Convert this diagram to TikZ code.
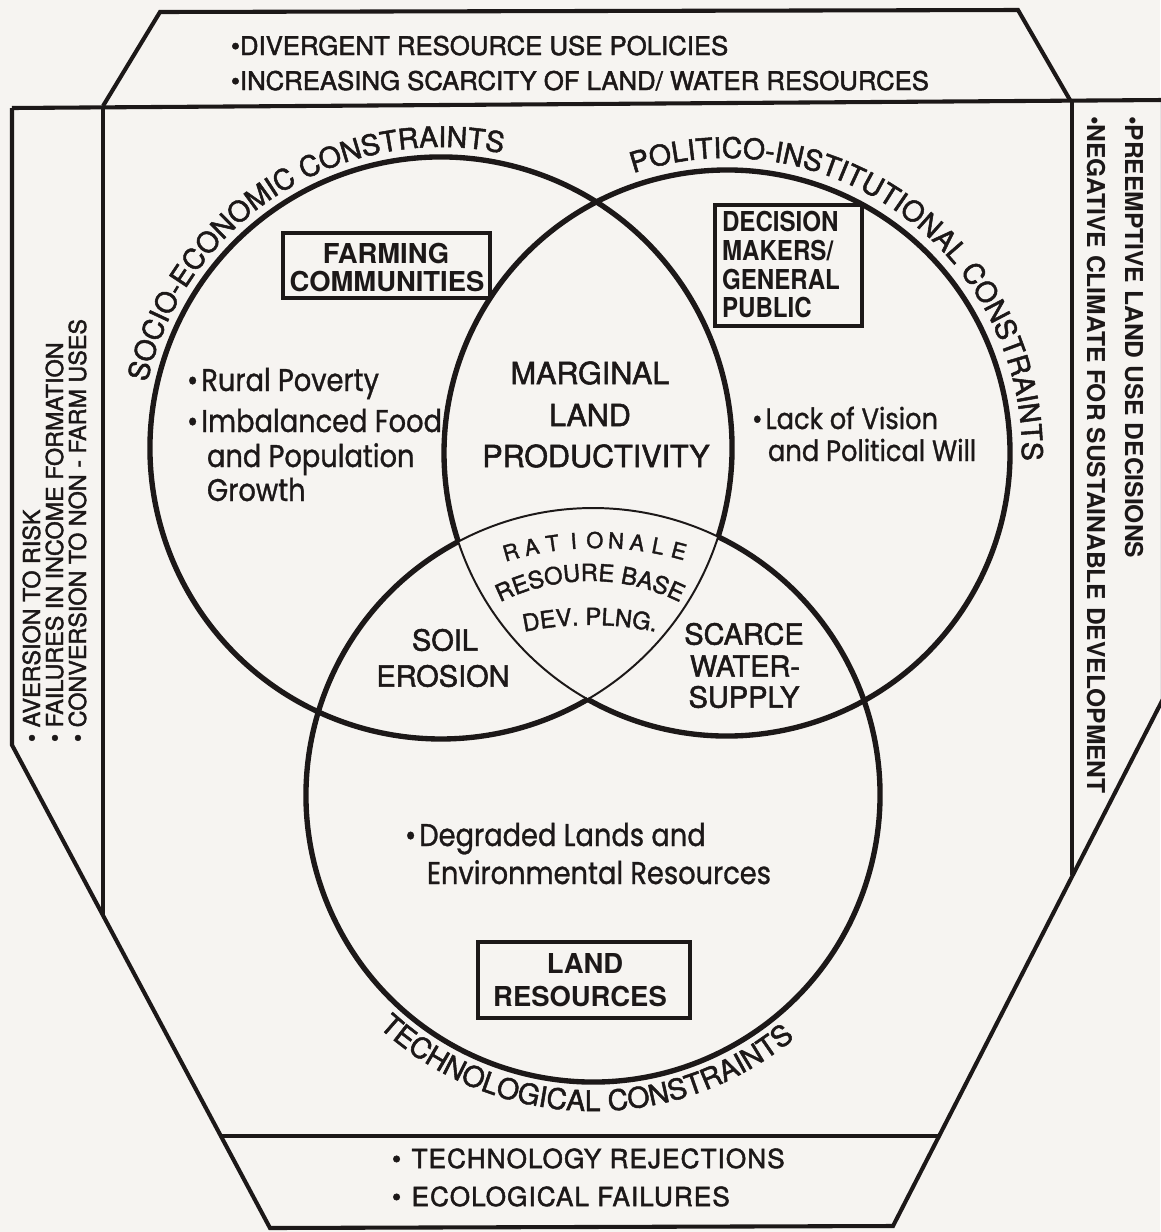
\documentclass[tikz,border=0pt]{standalone}
\usepackage{fontspec}
\setmainfont{TeX Gyre Heros}
\newfontfamily\hvm{TeX Gyre Heros}[FakeBold=1.8]
\newfontfamily\hvc{TeX Gyre Heros}[FakeStretch=0.88]
\newfontfamily\hvr{TeX Gyre Heros}[FakeStretch=1.0]
\newfontfamily\hvls{TeX Gyre Heros}[LetterSpace=4,FakeBold=1.8]
\newfontfamily\pop{Poppins}[FakeStretch=0.87,FakeBold=1.0]
\newfontfamily\popc{Poppins}[FakeStretch=0.88,FakeBold=1.0]
\usetikzlibrary{decorations.text}
\definecolor{ink}{RGB}{28,24,24}
\definecolor{paper}{RGB}{246,244,241}
\newcommand\mytop{\fontsize{18.3}{22}\hvm}
\newcommand\mycurve{\fontsize{20.2}{24}\hvm}
\newcommand\mylp{\fontsize{16.6}{20}\hvm}
\newcommand\myrp{\fontsize{17.5}{20}\bfseries\hvr}
\newcommand\mybot{\fontsize{18.6}{22}\hvls}
\newcommand\mybox{\fontsize{19.5}{23}\bfseries}
\newcommand\myboxc{\fontsize{19.5}{23}\bfseries\hvc}
\newcommand\mymid{\fontsize{21.7}{26}\hvm}
\newcommand\mysoil{\fontsize{20.6}{25}\hvm}
\newcommand\myinner{\fontsize{16.8}{20}\hvm}
\newcommand\myrat{\fontsize{15.5}{18}\hvm}
\newcommand\mypop{\fontsize{22.3}{26}\pop}
\newcommand\mypopc{\fontsize{20.8}{24}\popc}
\begin{document}
\begin{tikzpicture}[x=0.025cm,y=0.025cm,
  frame/.style={draw=ink,line width=2.9pt,line join=miter},
  ring/.style={draw=ink,line width=3.8pt},
  fine/.style={draw=ink,line width=1.4pt},
  boxline/.style={draw=ink,line width=2.2pt},
  txt/.style={text=ink,inner sep=0pt,outer sep=0pt}]
\fill[paper] (0,0) rectangle (1160,-1232);
\useasboundingbox (0,0) rectangle (1160,-1232);

% frame
\draw[frame] (103,-106) -- (160,-12) -- (1018,-10) -- (1070,-100);
\draw[frame] (12,-108) -- (1163,-100);
\draw[frame] (12,-108) -- (12,-745) -- (270,-1228) -- (893,-1226) -- (1163,-699) -- (1163,-100);
\draw[frame] (103,-106) -- (103,-915);
\draw[frame] (1072,-100) -- (1072,-875);
\draw[frame] (221,-1136) -- (939,-1136);

% circles
\coordinate (C1) at (441,-448);
\coordinate (C2) at (727,-453);
\coordinate (C3) at (593,-795);
\draw[ring] (C1) ++(-17.74:291) arc[start angle=-17.74,end angle=300.27,radius=291];
\draw[fine] (C1) ++(-59.73:291) arc[start angle=-59.73,end angle=-17.74,radius=291];
\draw[ring] (C2) ++(240.51:283) arc[start angle=240.51,end angle=558.24,radius=283];
\draw[fine] (C2) ++(198.24:283) arc[start angle=198.24,end angle=240.51,radius=283];
\draw[ring] (C3) ++(118.01:287) arc[start angle=118.01,end angle=424.14,radius=287];
\draw[fine] (C3) ++(64.14:287) arc[start angle=64.14,end angle=118.01,radius=287];

% curved labels
\path[decorate,decoration={text along path,text align=center,
  text={|\color{ink}\mycurve|SOCIO-ECONOMIC CONSTRAINTS}}]
  (C1) ++(175:301) arc[start angle=175,end angle=70.6,radius=301];
\path[decorate,decoration={text along path,text align=center,
  text={|\color{ink}\mycurve|POLITICO-INSTITUTIONAL CONSTRAINTS}}]
  (C2) ++(115:295) arc[start angle=115,end angle=-8,radius=295];
\path[decorate,decoration={text along path,text align=center,
  text={|\color{ink}\mycurve|TECHNOLOGICAL CONSTRAINTS}}]
  (C3) ++(220:316) arc[start angle=220,end angle=317,radius=316];

% top panel
\node[txt,font=\mytop,anchor=base west] (t1) at (231,-55) {•DIVERGENT RESOURCE USE POLICIES};
\node[txt,font=\mytop,anchor=base west] (t2) at (231,-90) {•INCREASING SCARCITY OF LAND/ WATER RESOURCES};

% left panel
\node[txt,font=\mylp,rotate=90,anchor=base west] (l1) at (40,-742) {• AVERSION TO RISK};
\node[txt,font=\mylp,rotate=90,anchor=base west] (l2) at (63,-742) {• FAILURES IN INCOME FORMATION};
\node[txt,font=\mylp,rotate=90,anchor=base west] (l3) at (86,-742) {• CONVERSION TO NON - FARM USES};

% right panel
\node[txt,font=\myrp,rotate=-90,anchor=base west] (r1) at (1125,-116) {•PREEMPTIVE LAND USE DECISIONS};
\node[txt,font=\myrp,rotate=-90,anchor=base west] (r2) at (1087,-116) {•NEGATIVE CLIMATE FOR SUSTAINABLE DEVELOPMENT};

% bottom panel
\node[txt,font=\mybot,anchor=base west] (b1) at (392,-1168) {•\hspace{0.4em}TECHNOLOGY REJECTIONS};
\node[txt,font=\mybot,anchor=base west] (b2) at (392,-1206) {•\hspace{0.4em}ECOLOGICAL FAILURES};

% boxes
\draw[boxline] (283,-233) rectangle (490,-298);
\node[txt,font=\mybox] (fc1) at (386,-253) {FARMING};
\node[txt,font=\mybox] (fc2) at (387,-281) {COMMUNITIES};

\draw[boxline] (715,-205) rectangle (862,-326);
\node[txt,font=\myboxc,anchor=base west] (d1) at (722,-231) {DECISION};
\node[txt,font=\myboxc,anchor=base west] (d2) at (722,-260) {MAKERS/};
\node[txt,font=\myboxc,anchor=base west] (d3) at (722,-289) {GENERAL};
\node[txt,font=\myboxc,anchor=base west] (d4) at (722,-317) {PUBLIC};

\draw[boxline] (478,-942) rectangle (690,-1018);
\node[txt,font=\mybox] (lr1) at (585,-963) {LAND};
\node[txt,font=\mybox] (lr2) at (580,-996) {RESOURCES};

% region texts
\node[txt,font=\mymid] (m1) at (590,-373) {MARGINAL};
\node[txt,font=\mymid] (m2) at (590,-415) {LAND};
\node[txt,font=\mymid] (m3) at (596,-456) {PRODUCTIVITY};

\node[txt,font=\mysoil] (s1) at (445,-640) {SOIL};
\node[txt,font=\mysoil] (s2) at (443,-676) {EROSION};

\node[txt,font=\mysoil] (w1) at (744,-634) {SCARCE};
\node[txt,font=\mysoil] (w2) at (745,-666) {WATER-};
\node[txt,font=\mysoil] (w3) at (744,-697) {SUPPLY};

% centre
\coordinate (RA) at (597,-859);
\foreach \ch [count=\i] in {R,A,T,I,O,N,A,L,E}{
  \pgfmathsetmacro\ang{105.67-(\i-1)*3.82}
  \path (RA) ++(\ang:311) node[txt,font=\myrat,rotate=\ang-90,anchor=base,name=ra\i] {\ch};
}
\coordinate (RB) at (590,-781);
\path[decorate,decoration={text along path,text align=center,
  text={|\color{ink}\myinner|RESOURE BASE}}]
  (RB) ++(125:200) arc[start angle=125,end angle=55,radius=200];
\coordinate (DP) at (590,-945);
\path[decorate,decoration={text along path,text align=center,
  text={|\color{ink}\myinner|DEV. PLNG.}}]
  (DP) ++(106:320) arc[start angle=106,end angle=74,radius=320];

% mixed case
\node[txt,font=\mypop,anchor=base west] (rp) at (187,-391) {•\hspace{0.1em}Rural Poverty};
\node[txt,font=\mypop,anchor=base west] (ib) at (187,-432) {•\hspace{0.1em}Imbalanced Food};
\node[txt,font=\mypop,anchor=base west] (ap) at (207,-467) {and Population};
\node[txt,font=\mypop,anchor=base west] (gr) at (207,-501) {Growth};
\node[txt,font=\mypopc,anchor=base west] (lv) at (752,-429) {•\hspace{0.1em}Lack of Vision};
\node[txt,font=\mypopc,anchor=base west] (pw) at (768,-461) {and Political Will};
\node[txt,font=\mypop,anchor=base west] (dl) at (405,-846) {•\hspace{0.1em}Degraded Lands and};
\node[txt,font=\mypop,anchor=base west] (er) at (427,-884) {Environmental Resources};
\end{tikzpicture}
\end{document}
